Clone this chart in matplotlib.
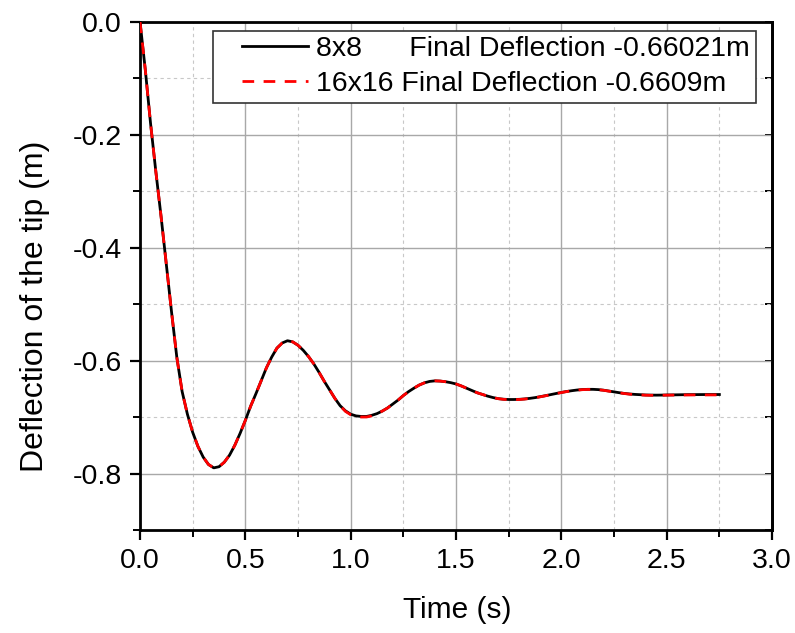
import matplotlib
matplotlib.use("Agg")
import matplotlib.pyplot as plt
from matplotlib.ticker import MultipleLocator
from matplotlib.legend_handler import HandlerLine2D

plt.rcParams['font.family'] = ['Liberation Sans', 'DejaVu Sans']
plt.rcParams['axes.unicode_minus'] = False

time_s = [
    0.000, 0.025, 0.050, 0.075, 0.100, 0.125, 0.150, 0.175, 0.200, 0.225,
    0.250, 0.275, 0.300, 0.325, 0.350, 0.375, 0.400, 0.425, 0.450, 0.475,
    0.500, 0.525, 0.550, 0.575, 0.600, 0.625, 0.650, 0.675, 0.700, 0.725,
    0.750, 0.775, 0.800, 0.825, 0.850, 0.875, 0.900, 0.925, 0.950, 0.975,
    1.000, 1.025, 1.050, 1.075, 1.100, 1.125, 1.150, 1.175, 1.200, 1.225,
    1.250, 1.275, 1.300, 1.325, 1.350, 1.375, 1.400, 1.425, 1.450, 1.475,
    1.500, 1.525, 1.550, 1.575, 1.600, 1.625, 1.650, 1.675, 1.700, 1.725,
    1.750, 1.775, 1.800, 1.825, 1.850, 1.875, 1.900, 1.925, 1.950, 1.975,
    2.000, 2.025, 2.050, 2.075, 2.100, 2.125, 2.150, 2.175, 2.200, 2.225,
    2.250, 2.275, 2.300, 2.325, 2.350, 2.375, 2.400, 2.425, 2.450, 2.475,
    2.500, 2.550, 2.600, 2.650, 2.700, 2.750,
]

defl_8x8 = [
    0.000, -0.085, -0.180, -0.265, -0.345, -0.430, -0.515, -0.595, -0.655, -0.695,
    -0.727, -0.752, -0.771, -0.784, -0.790, -0.788, -0.780, -0.7675, -0.750, -0.729,
    -0.706, -0.681, -0.659, -0.636, -0.613, -0.594, -0.578, -0.569, -0.565, -0.567,
    -0.573, -0.582, -0.593, -0.606, -0.621, -0.637, -0.652, -0.667, -0.680, -0.689,
    -0.695, -0.698, -0.699, -0.699, -0.697, -0.694, -0.6895, -0.684, -0.677, -0.670,
    -0.662, -0.655, -0.649, -0.6435, -0.6395, -0.637, -0.636, -0.6364, -0.6375, -0.6392,
    -0.6415, -0.645, -0.649, -0.653, -0.657, -0.660, -0.663, -0.6655, -0.6675, -0.6685,
    -0.669, -0.669, -0.6687, -0.668, -0.667, -0.6657, -0.664, -0.6622, -0.6603, -0.6584,
    -0.6565, -0.6548, -0.6534, -0.6522, -0.6514, -0.651, -0.651, -0.6515, -0.6525, -0.654,
    -0.6555, -0.657, -0.6583, -0.6593, -0.660, -0.6605, -0.661, -0.6612, -0.6613, -0.6612,
    -0.661, -0.6607, -0.6604, -0.6603, -0.6602, -0.6602,
]

defl_16x16 = [
    0.000, -0.085, -0.180, -0.265, -0.345, -0.430, -0.515, -0.595, -0.655, -0.695,
    -0.727, -0.752, -0.771, -0.784, -0.790, -0.788, -0.780, -0.7675, -0.750, -0.729,
    -0.706, -0.681, -0.659, -0.636, -0.613, -0.594, -0.578, -0.569, -0.565, -0.567,
    -0.573, -0.582, -0.593, -0.606, -0.621, -0.637, -0.652, -0.667, -0.680, -0.690,
    -0.696, -0.699, -0.700, -0.700, -0.698, -0.694, -0.6895, -0.684, -0.677, -0.670,
    -0.662, -0.655, -0.649, -0.6435, -0.6395, -0.637, -0.636, -0.6364, -0.6375, -0.6392,
    -0.6415, -0.645, -0.649, -0.653, -0.657, -0.660, -0.663, -0.6655, -0.6675, -0.6687,
    -0.6693, -0.6693, -0.6690, -0.6683, -0.6672, -0.6659, -0.6642, -0.6624, -0.6605, -0.6586,
    -0.6567, -0.6550, -0.6536, -0.6524, -0.6516, -0.6512, -0.6512, -0.6517, -0.6527, -0.6542,
    -0.6557, -0.6572, -0.6585, -0.6596, -0.6603, -0.6609, -0.6614, -0.6616, -0.6616, -0.6615,
    -0.6613, -0.6611, -0.6610, -0.6609, -0.6609, -0.6609,
]

labels = ["8x8      Final Deflection -0.66021m",
          "16x16 Final Deflection -0.6609m"]

x_ticks = [0.0, 0.5, 1.0, 1.5, 2.0, 2.5, 3.0]
y_ticks = [0.0, -0.2, -0.4, -0.6, -0.8]

fig = plt.figure(figsize=(7.95, 6.33), dpi=100)
ax = fig.add_axes([0.1761, 0.1627, 0.7950, 0.8033])

l1, = ax.plot(time_s, defl_8x8, color='black', lw=2.0, label=labels[0], zorder=3)
l2, = ax.plot(time_s, defl_16x16, color='red', lw=2.0, dashes=(4.2, 3.4),
              label=labels[1], zorder=4)

ax.set_xlim(0, 3.0)
ax.set_ylim(-0.9, 0.0)
ax.set_xticks(x_ticks)
ax.set_xticklabels([f"{v:.1f}" for v in x_ticks])
ax.set_yticks(y_ticks)
ax.set_yticklabels([f"{v:.1f}" if v != 0 else "0.0" for v in y_ticks])
ax.xaxis.set_minor_locator(MultipleLocator(0.25))
ax.yaxis.set_minor_locator(MultipleLocator(0.1))

ax.set_axisbelow(True)
ax.grid(which='major', color='#a8a8a8', lw=1.0, ls='-')
ax.grid(which='minor', color='#c8c8c8', lw=0.8, ls=(0, (3, 3)))

for s in ax.spines.values():
    s.set_linewidth(2.0)
    s.set_color('black')

ax.tick_params(which='major', direction='out', length=7, width=1.6,
               labelsize=20.5, pad=6, right=False, top=False)
ax.tick_params(which='minor', direction='out', length=5, width=1.4,
               right=False, top=False)

axr = ax.secondary_yaxis('right')
axr.set_yticks(y_ticks)
axr.yaxis.set_minor_locator(MultipleLocator(0.1))
axr.tick_params(which='both', direction='in', length=5, width=1.4, labelright=False)
axr.spines['right'].set_linewidth(2.0)

ax.set_xlabel("Time (s)", fontsize=21.5)
ax.xaxis.set_label_coords(0.502, -0.13)
ax.set_ylabel("Deflection of the tip (m)", fontsize=23)
ax.yaxis.set_label_coords(-0.142, 0.4405)

hm = {l1: HandlerLine2D(xpad=0.83), l2: HandlerLine2D(xpad=0.83)}
leg = ax.legend(loc='upper left', bbox_to_anchor=(0.115, 0.982),
                borderaxespad=0, fontsize=20.5, frameon=True, fancybox=False,
                handlelength=3.15, handletextpad=0.29, borderpad=0.2,
                labelspacing=0.3, handler_map=hm)
leg.get_frame().set_edgecolor('#333333')
leg.get_frame().set_linewidth(1.2)
leg.get_frame().set_alpha(1.0)

fig.savefig("out.png", dpi=100)
